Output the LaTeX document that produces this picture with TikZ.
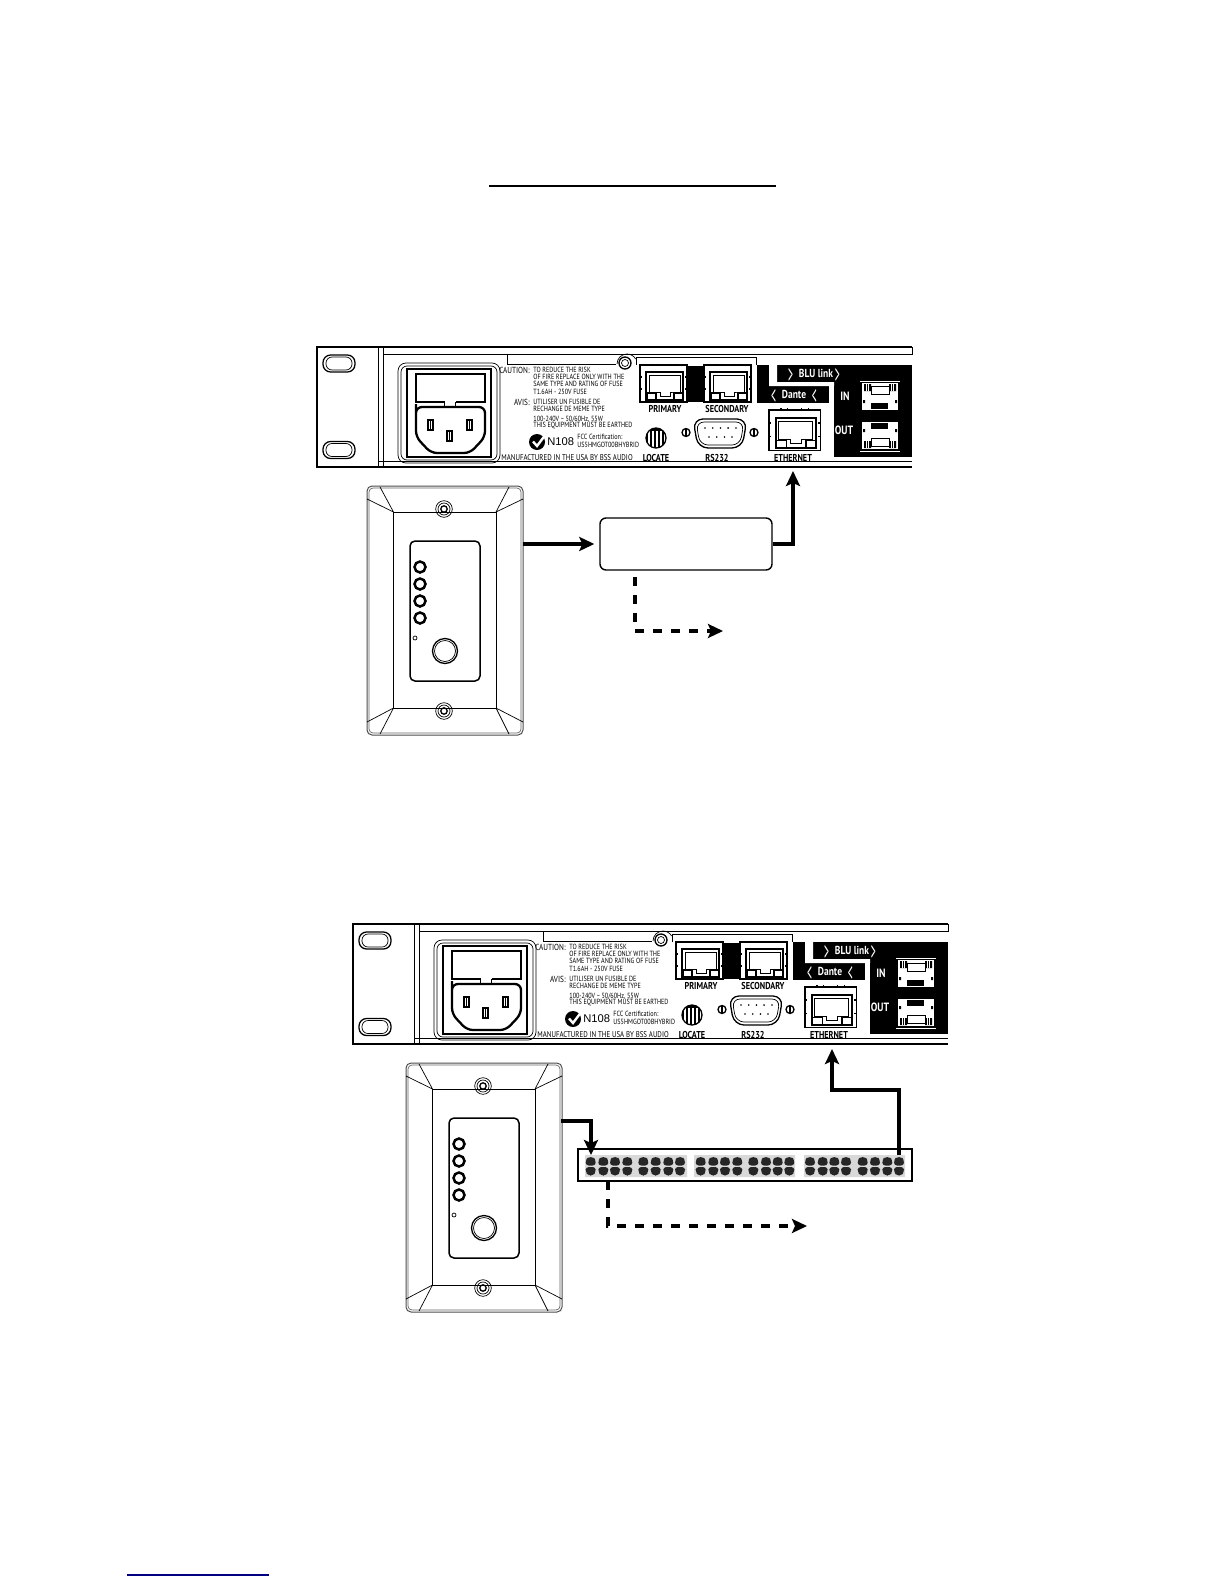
\documentclass[tikz,border=0pt]{standalone}
\usepackage{fontspec}
\usepackage{graphicx}
\setmainfont{PT Sans}
\newfontfamily\nrw[FakeStretch=0.82]{PT Sans}
\newfontfamily\arl{Liberation Sans}
\usetikzlibrary{arrows.meta}
\newcommand\chev[1]{\raisebox{-2.6pt}{\scalebox{1.3}[2.9]{\mdseries\fontsize{4.6}{4.6}\selectfont #1}}}
\tikzset{
  px/.style={x=0.5pt,y=-0.5pt},
  tiny/.style={inner sep=0,font=\nrw\fontsize{3.75}{3.75}\selectfont,anchor=west},
  tinyr/.style={inner sep=0,font=\nrw\fontsize{4.4}{4.4}\selectfont,anchor=east},
  lab/.style={inner sep=0,font=\nrw\bfseries\fontsize{5}{5}\selectfont,anchor=center},
  wlab/.style={lab,text=white},
  thinl/.style={line width=0.35pt},
  medl/.style={line width=0.65pt},
  thickl/.style={line width=1.15pt},
  wire/.style={line width=2.25pt,-{Stealth[length=7.5pt,width=7pt,inset=1.5pt]}},
  dwire/.style={wire,dash pattern=on 4.5pt off 4.5pt},
  flow/.style={draw,fill=white,rounded corners=3pt,line width=0.7pt,minimum width=86pt,minimum height=26pt,inner sep=0},
  hub/.style={draw,line width=0.7pt,minimum width=167pt,minimum height=16pt,inner sep=0},
  plate/.style={minimum width=78pt,minimum height=124.5pt,inner sep=0},
}
% RJ45 jack, local origin at top-left, size 47 x 37
\newcommand\rjjack[3]{%
\begin{scope}[shift={(#1,#2)},scale=#3]
  \draw[medl,fill=white] (0,0) rectangle (47,37);
  \draw[line width=1pt] (6,7) rectangle (43,35);
  \draw[thinl] (9,10) -- (40,10) -- (40,27) -- (34,27) -- (30,27) -- (30,31) -- (20,31) -- (20,27) -- (9,27) -- cycle;
  \draw[medl] (7,28) rectangle (16,35) (34,28) rectangle (43,35);
  \draw[medl] (11,-1.5) -- (11,1) (17,-1.5) -- (17,1) (30,-1.5) -- (30,1) (36,-1.5) -- (36,1);
  \draw[medl] (-1,12) -- (2,12) (-1,24) -- (2,24) (45,12) -- (48,12) (45,24) -- (48,24);
\end{scope}}
% BLU link socket
\newcommand\blusock[3]{%
\begin{scope}[shift={(#1,#2)},yscale=#3]
  \fill[white] (0,0) rectangle (36,27);
  \draw[white,thinl] (-2,-2) -- (38,-2);
  \fill[black] (2,1) rectangle (9,8) (27,1) rectangle (34,8);
  \fill[black] (9,20) rectangle (26,26);
  \fill[black] (1,17) rectangle (3,20) (33,17) rectangle (35,20);
  \draw[white,line width=0.4pt] (4,1) -- (4,8) (6,1) -- (6,8) (29,1) -- (29,8) (31,1) -- (31,8);
  \draw[black,thinl] (9,3) rectangle (27,11);
\end{scope}}
% rear panel of the unit, drawn at first-panel coordinates
\newcommand\rearpanel{%
  \draw[thickl] (912,347) -- (317,347) -- (317,467) -- (912,467);
  \draw[thinl] (378,347) -- (378,467) (383,347) -- (383,467);
  \draw[thinl] (383,354) -- (912,354) -- (912,347);
  \draw[thinl] (507,354) -- (507,364) -- (616,364);
  \draw[medl] (378,461.5) -- (912,461.5);
  \foreach \yy in {363.5,450}{
    \draw[medl,rounded corners=3.8pt] (323,\yy-8.5) rectangle (355,\yy+8.5);
    \draw[thinl,rounded corners=3pt] (326,\yy-6.5) rectangle (352,\yy+6.5);
  }
  % power module
  \draw[thinl,rounded corners=4pt] (398,363) rectangle (500,463);
  \draw[thinl,rounded corners=3pt] (401,366) rectangle (497,460);
  \draw[medl] (407,369) rectangle (491,457);
  \draw[thickl] (416,374) rectangle (485,402);
  \fill[white] (444.5,400) rectangle (455.5,404);
  \draw[medl] (444.5,402) -- (444.5,407) (455.5,402) -- (455.5,407);
  \draw[thickl,rounded corners=3pt] (416,410) -- (416,407) -- (485,407) -- (485,437) -- (470,453) -- (431,453) -- (416,437) -- cycle;
  \foreach \xa/\ya in {428/420,467/420,447/431}{
    \draw[medl,fill=white] (\xa,\ya) rectangle ++(5,10);
    \fill (\xa+1.8,\ya+1) rectangle ++(1.4,8);
  }
  % warning text
  \node[tinyr] (cau) at (530,370) {CAUTION:};
  \node[tiny] (l1) at (533,370) {TO REDUCE THE RISK};
  \node[tiny] (l2) at (533,377) {OF FIRE REPLACE ONLY WITH THE};
  \node[tiny] (l3) at (533,384) {SAME TYPE AND RATING OF FUSE};
  \node[tiny] (l4) at (533,391.5) {T1.6AH - 250V FUSE};
  \node[tinyr] (avis) at (530,402) {AVIS:};
  \node[tiny] (l5) at (533,402) {UTILISER UN FUSIBLE DE};
  \node[tiny] (l6) at (533,409) {RECHANGE DE MEME TYPE};
  \node[tiny] (l7) at (533,419) {100-240V \textasciitilde{} 50/60Hz, 55W};
  \node[tiny] (l8) at (533,426) {THIS EQUIPMENT MUST BE EARTHED};
  \fill (537,442) circle (8);
  \draw[white,line width=1.2pt] (533,441.5) -- (537,446) -- (546,434);
  \node[inner sep=0,font=\arl\fontsize{5.6}{5.6}\selectfont,anchor=west] (n108) at (547,442) {N108};
  \node[tiny] (fcc1) at (577,436.5) {FCC Certification:};
  \node[tiny] (fcc2) at (577,445) {US5HMGOT00BHYBRID};
  \node[tiny,font=\nrw\fontsize{4.2}{4.2}\selectfont] (made) at (501,457.5) {MANUFACTURED IN THE USA BY BSS AUDIO};
  % knob
  \draw[medl,fill=white] (625,363) circle (6);
  \draw[thinl] (625,363) circle (3.5);
  \draw[thinl] (617,364) arc[start angle=180,end angle=330,radius=10];
  % black fields
  \draw[thinl] (636,365) -- (636,357) -- (756,357) -- (756,365);
  \fill (687,366) rectangle (704,402);
  \fill (757,365) rectangle (829,403);
  \fill (769,365) rectangle (912,386);
  \fill (834,365) rectangle (912,457);
  \fill[white] (769,365) rectangle (777,386) (769,382) rectangle (834,386);
  \fill[white] (829,386) rectangle (834,403);
  \rjjack{640}{365}{1}
  \rjjack{704}{365}{1}
  \rjjack{769}{410}{1.09}
  \node[wlab,font=\nrw\bfseries\fontsize{5.8}{5.8}\selectfont] (blu) at (814,375.5) {\chev{>}\enspace BLU link\,\chev{>}};
  \node[wlab,font=\nrw\bfseries\fontsize{5.8}{5.8}\selectfont] (dan) at (794,396.5) {\chev{<}\enspace Dante\enspace\chev{<}};
  \node[wlab,font=\nrw\bfseries\fontsize{6}{6}\selectfont] (in) at (845,396) {IN};
  \node[wlab,font=\nrw\bfseries\fontsize{6}{6}\selectfont] (out) at (844,430) {OUT};
  \blusock{862}{383}{1}
  \blusock{862}{449}{-1}
  % serial port, locate
  \draw[medl,rounded corners=5pt] (693,419) -- (747,419) -- (742,448) -- (698,448) -- cycle;
  \draw[thinl,rounded corners=4pt] (696,422) -- (744,422) -- (740,445) -- (700,445) -- cycle;
  \foreach \xp in {705,712.7,720.4,728.1,736} \fill (\xp,428) circle (0.9);
  \foreach \xp in {709,716.7,724.4,732} \fill (\xp,437) circle (0.9);
  \foreach \xs in {686,754}{
    \draw[medl] (\xs,432.5) circle (4);
    \fill (\xs-1,428.5) rectangle (\xs+1,436.5);
  }
  \begin{scope}
    \clip (656,438) circle (10);
    \foreach \xs in {646,650,654,658,662,666} \fill (\xs,428) rectangle ++(2.2,20);
    \fill (646,428) rectangle (666,431);
  \end{scope}
  \draw[medl] (656,438) circle (10);
  \node[lab] (pri) at (665,409) {PRIMARY};
  \node[lab] (sec) at (727,409) {SECONDARY};
  \node[lab] (loc) at (656,457.5) {LOCATE};
  \node[lab] (rs) at (717,457.5) {RS232};
  \node[lab] (eth) at (793,457.5) {ETHERNET};
}
% wall controller
\newcommand\wallplate{%
  \node[plate] (body) at (445,610.5) {};
  \draw[line width=0.5pt,draw=black!70,rounded corners=2.5pt] (367,486) rectangle (523,735);
  \draw[thinl,draw=black!60,rounded corners=2pt] (369,488) rectangle (521,733);
  \draw[thinl] (393.5,512) rectangle (496,708);
  \draw[medl] (393.5,512) -- (393.5,708);
  \draw[thinl] (393.5,512) -- (367,499) (393.5,512) -- (380,487)
               (496,512) -- (523,499) (496,512) -- (509,487)
               (393.5,708) -- (367,722) (393.5,708) -- (380,734)
               (496,708) -- (523,722) (496,708) -- (509,734);
  \foreach \ys in {509,711}{
    \draw[thinl] (444,\ys) circle (8.3);
    \draw[thinl] (444,\ys) circle (6);
    \draw[medl] (444,\ys) circle (3.2);
  }
  \draw[line width=0.75pt,rounded corners=2.5pt] (410,541) rectangle (480,681);
  \foreach \ys in {567,584,601,618} \draw[line width=1.25pt] (420,\ys) circle (5.5);
  \draw[thinl] (415,638) circle (2);
  \draw[medl] (445,651) circle (12.5);
  \draw[thinl] (445,651) circle (10.5);
}
\begin{document}
\begin{tikzpicture}[px]
  \useasboundingbox (0,0) rectangle (1224,1584);
  \fill[white] (0,0) rectangle (1224,1584);
  \coordinate (titleL) at (489,186);
  \coordinate (titleR) at (776,186);
  \draw[line width=1pt] (titleL) -- (titleR);
  \coordinate (linkL) at (127,1575);
  \coordinate (linkR) at (269,1575);
  \draw[line width=0.6pt,draw=blue!50!black] (linkL) -- (linkR);

  % upper arrangement
  \begin{scope}[name prefix=A-]\rearpanel\end{scope}
  \begin{scope}[name prefix=B-]\wallplate\end{scope}
  \node[flow] (box) at (686,544) {};
  \coordinate (ethA) at (793,471);
  \coordinate (dashA) at (635,577);
  \coordinate (endA) at (723,631);
  \coordinate (bendA) at (793,544);
  \draw[wire,shorten >=2.5pt] (B-body.east |- box.west) -- (box.west);
  \draw[wire] (box.east) -- (bendA) -- (ethA);
  \draw[dwire] (dashA) |- (endA);

  % lower arrangement
  \begin{scope}[shift={(36,577)},name prefix=C-]\rearpanel\end{scope}
  \begin{scope}[shift={(39,577)},name prefix=D-]\wallplate\end{scope}
  \node[hub] (sw) at (745,1165) {};
  \fill[black!15] (585,1155) rectangle (687,1177) (694,1155) rectangle (795,1177) (804,1155) rectangle (905,1177);
  \foreach \xp in {590.7,603.3,615,627.3,643.3,655.7,668.3,680,700.7,713.3,725,737.3,753.3,766,777.7,789.3,810,822.7,834.3,846,862.7,875,887.3,899}{
    \fill[black!85,rounded corners=1.5pt] (\xp-5,1165.5) -- (\xp-5,1160) -- (\xp-2.5,1157) -- (\xp+2.5,1157) -- (\xp+5,1160) -- (\xp+5,1165.5) -- cycle;
    \fill[black!85,rounded corners=1.5pt] (\xp-5,1167) -- (\xp-5,1172) -- (\xp-2.5,1175.5) -- (\xp+2.5,1175.5) -- (\xp+5,1172) -- (\xp+5,1167) -- cycle;
  }
  \coordinate (inB) at (591,1155);
  \coordinate (outB) at (899,1155);
  \coordinate (ethB) at (832,1049);
  \coordinate (wallB) at (561,1121);
  \coordinate (dashB) at (608,1181);
  \coordinate (endB) at (807,1226);
  \draw[wire] (wallB) -| (inB);
  \draw[wire] (outB) |- (832,1090) -- (ethB);
  \draw[dwire] (dashB) |- (endB);
\end{tikzpicture}
\end{document}
